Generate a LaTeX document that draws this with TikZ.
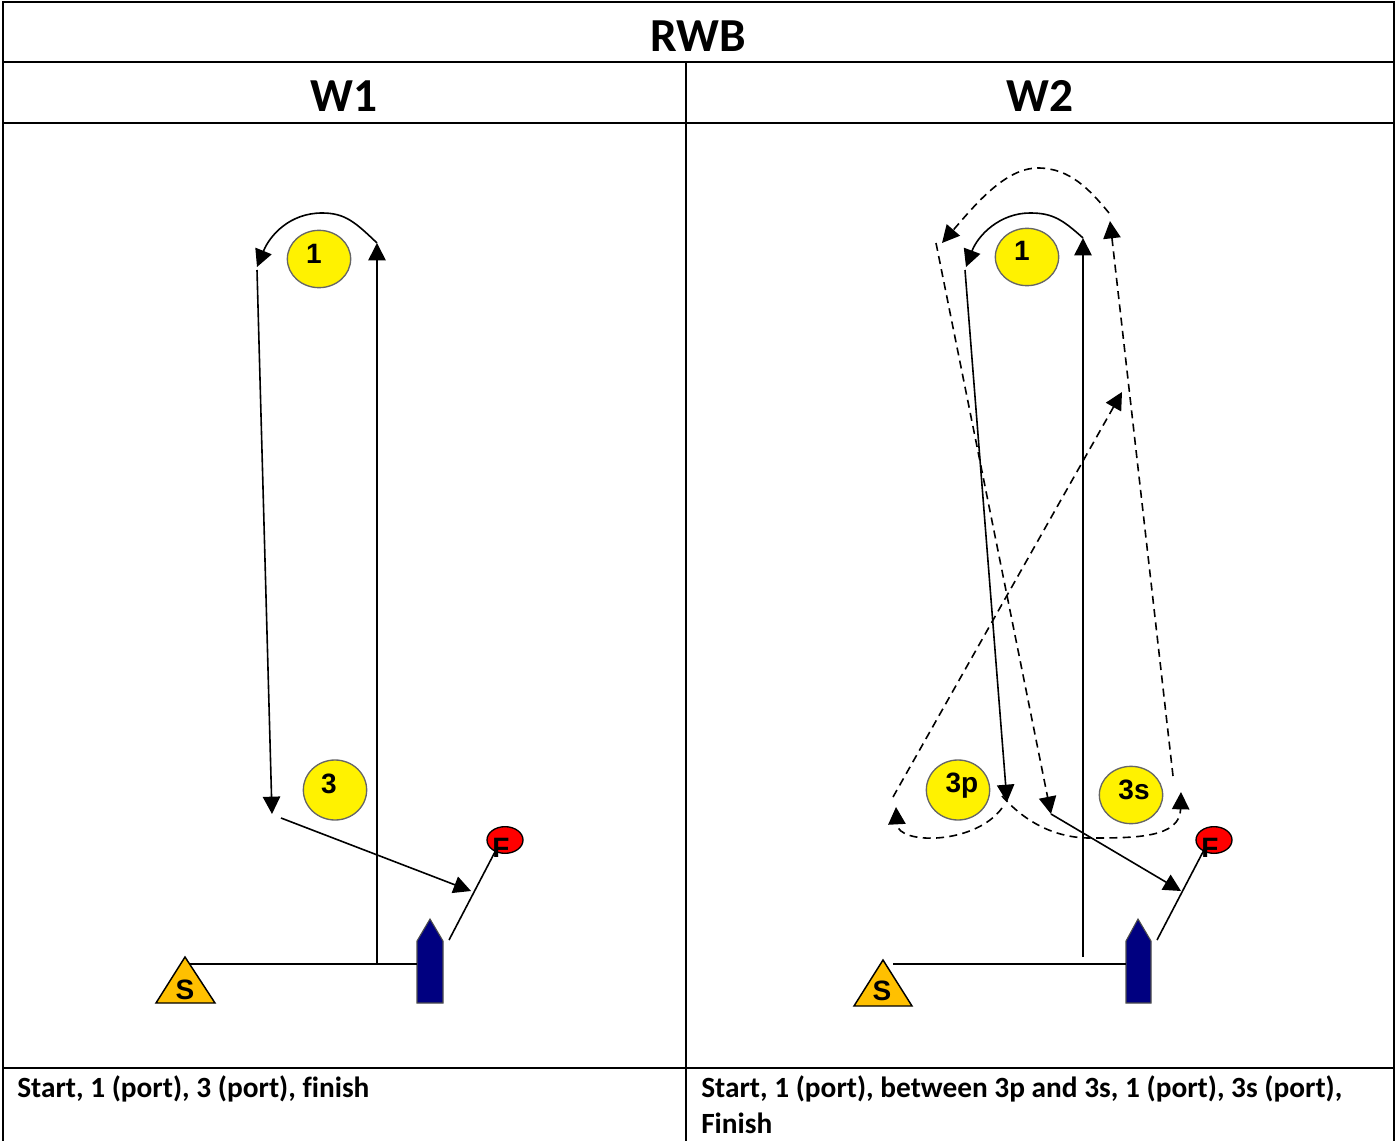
\documentclass[tikz,border=0pt]{standalone}
\usepackage{fontspec}
\setmainfont{Carlito}[Ligatures=NoCommon]
\newfontfamily\marksans{Liberation Sans}
\usetikzlibrary{arrows.meta,shapes.geometric}
\definecolor{startorange}{RGB}{255,192,0}
\definecolor{navyboat}{RGB}{0,0,128}
\tikzset{
  x=0.75pt,y=-0.75pt,
  tablerule/.style={draw=black,line width=1.5pt},
  course/.style={draw=black,line width=1.2pt},
  arrowed/.style={course,-{Triangle[length=13pt,width=13pt]}},
  dashedcourse/.style={arrowed,dash pattern=on 6pt off 4pt},
  headtext/.style={font=\bfseries\fontsize{35.5}{36}\selectfont,inner sep=0pt,anchor=base},
  foottext/.style={font=\bfseries\fontsize{22}{27}\selectfont,inner sep=0pt,anchor=north west,align=left},
  buoy/.style={ellipse,draw=black!60,line width=1pt,fill=yellow,inner sep=0pt,minimum width=47.5pt,minimum height=45pt},
  smallbuoy/.style={buoy,minimum height=43pt},
  buoytext/.style={font=\marksans\bfseries\fontsize{21}{21}\selectfont,inner sep=0pt,anchor=base},
  lettertext/.style={font=\marksans\bfseries\fontsize{21}{21}\selectfont,inner sep=0pt,anchor=base},
  finishmark/.style={ellipse,draw=black,line width=1pt,fill=red,inner sep=0pt,minimum width=27pt,minimum height=20pt},
  startmark/.style={draw=black,line width=1.1pt,fill=startorange,line join=miter},
  boatshape/.style={draw=black!70,line width=0.8pt,fill=navyboat},
}
\begin{document}
\begin{tikzpicture}
\useasboundingbox (0,0) rectangle (1395,1141);
\fill[white] (0,0) rectangle (1395,1141);
% table
\draw[tablerule] (2.5,1141) -- (2.5,2.5) -- (1394,2.5) -- (1394,1141);
\draw[tablerule] (2.5,62.5) -- (1394,62.5);
\draw[tablerule] (2.5,123) -- (1394,123);
\draw[tablerule] (2.5,1068) -- (1394,1068);
\draw[tablerule] (686,62.5) -- (686,1141);
\node[headtext] (title) at (698.5,51.5) {RWB};
\node[headtext] (hA) at (344,112) {W1};
\node[headtext] (hB) at (1040,112) {W2};
\node[foottext] (fA) at (17,1075) {Start, 1 (port), 3 (port), finish};
\node[foottext] (fB) at (701,1075) {Start, 1 (port), between 3p and 3s, 1 (port), 3s (port),\\Finish};

% ---- W1 ----
\node[smallbuoy] (a1) at (319,259) {};
\node[buoytext] (a1t) at (314,264) {1};
\node[buoy] (a3) at (335,790) {};
\node[buoytext] (a3t) at (329,793) {3};
\node[finishmark] (aF) at (505,840) {};
\node[lettertext] (aFt) at (501,857) {F};
\path[startmark] (185,957) -- (215,1003) -- (156,1003) -- cycle;
\node[lettertext] (aSt) at (185,999) {S};
\path[boatshape] (417,1003) -- (443,1003) -- (443,941) -- (430,919) -- (417,941) -- cycle;
\coordinate (aS) at (190,964);
\coordinate (aB) at (417,964);
\coordinate (aUp0) at (377,964);
\coordinate (aUp1) at (377,243);
\coordinate (aTop) at (322,213);
\coordinate (aL0) at (257,270);
\coordinate (aL1) at (272,814);
\coordinate (aD0) at (281,818);
\coordinate (aD1) at (471,891);
\coordinate (aG) at (449,940);
\coordinate (aG1) at (497,848);
\coordinate (aArc) at (257,267);
\draw[course] (aS) -- (aB);
\draw[arrowed] (aUp0) -- (aUp1);
\draw[arrowed] (aUp1) .. controls (355,222) and (345,213) .. (aTop) .. controls (290,213) and (270,235) .. (aArc);
\draw[arrowed] (aL0) -- (aL1);
\draw[arrowed] (aD0) -- (aD1);
\draw[course] (aG) -- (aG1);

% ---- W2 ----
\node[smallbuoy] (b1) at (1027,257) {};
\node[buoytext] (b1t) at (1022,261) {1};
\node[buoy] (b3p) at (958,790) {};
\node[buoytext] (b3pt) at (962,792) {3p};
\node[smallbuoy] (b3s) at (1131,795) {};
\node[buoytext] (b3st) at (1134,799) {3s};
\node[finishmark] (bF) at (1214,840) {};
\node[lettertext] (bFt) at (1210,857) {F};
\path[startmark] (883,960) -- (912,1006) -- (854,1006) -- cycle;
\node[lettertext] (bSt) at (882,1000) {S};
\path[boatshape] (1126,1003) -- (1151,1003) -- (1151,941) -- (1138,919) -- (1126,941) -- cycle;
\coordinate (bS) at (893,964);
\coordinate (bB) at (1126,964);
\coordinate (bUp0) at (1083,957);
\coordinate (bUp1) at (1083,238);
\coordinate (bTop) at (1030,213);
\coordinate (bArc) at (966,267);
\coordinate (bL0) at (965,270);
\coordinate (bL1) at (1007,802);
\coordinate (bP0) at (1002,808);
\coordinate (bP1) at (896,807);
\coordinate (bX0) at (893,797);
\coordinate (bX1) at (1122,392);
\coordinate (bR0) at (1173,776);
\coordinate (bR1) at (1110,221);
\coordinate (bT0) at (1109,213);
\coordinate (bTm) at (1038,168);
\coordinate (bT1) at (942,243);
\coordinate (bM0) at (936,243);
\coordinate (bM1) at (1051,814);
\coordinate (bD1) at (1181,891);
\coordinate (bQ0) at (1002,796);
\coordinate (bQm) at (1090,838);
\coordinate (bQ1) at (1181,792);
\coordinate (bG) at (1157,940);
\coordinate (bG1) at (1205,848);
\draw[course] (bS) -- (bB);
\draw[arrowed] (bUp0) -- (bUp1);
\draw[arrowed] (bUp1) .. controls (1062,219) and (1052,213) .. (bTop) .. controls (1000,213) and (978,235) .. (bArc);
\draw[arrowed] (bL0) -- (bL1);
\draw[dashedcourse] (bP0) .. controls (975,845) and (898,845) .. (bP1);
\draw[dashedcourse] (bX0) -- (bX1);
\draw[dashedcourse] (bR0) -- (bR1);
\draw[dashedcourse] (bT0) .. controls (1090,190) and (1070,168) .. (bTm) .. controls (1005,168) and (975,205) .. (bT1);
\draw[dashedcourse] (bM0) -- (bM1);
\draw[arrowed] (bM1) -- (bD1);
\draw[dashedcourse] (bQ0) .. controls (1025,822) and (1055,838) .. (bQm) .. controls (1135,838) and (1180,838) .. (bQ1);
\draw[course] (bG) -- (bG1);
\end{tikzpicture}
\end{document}
